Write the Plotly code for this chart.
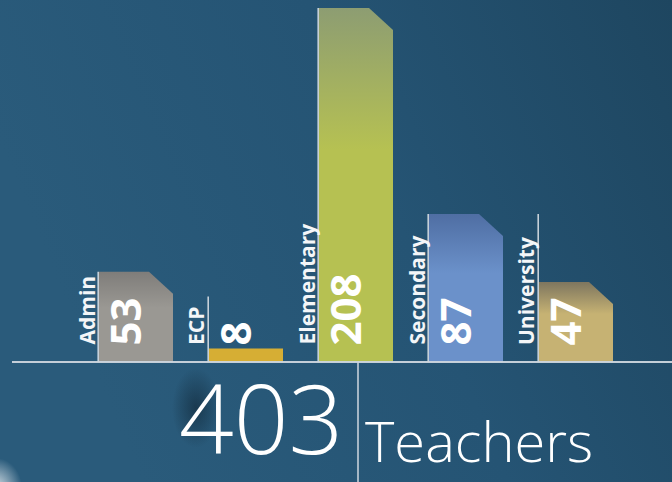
import base64
import plotly.graph_objects as go

# ---------------- data ----------------
categories = ["Admin", "ECP", "Elementary", "Secondary", "University"]
values = [53, 8, 208, 87, 47]
unit_label = "Teachers"
total = sum(values)  # 403

bar_colors_bottom = ["#9a9893", "#d6ae34", "#b6c152", "#6b91ca", "#c6b273"]
bar_colors_top = ["#7f7d7a", "#d6ae34", "#8d9d72", "#4f6ea3", "#7e765f"]

# ---------------- geometry (pixel based layout) ----------------
W, H = 672, 482
PITCH = 110.0          # px between bar starts
FIRST_CENTER = 136.0   # px, centre of first bar
BAR_W = 74.0           # px
BASE_Y = 362.0         # px, baseline
PX_PER_UNIT = 1.702    # px per teacher
CUT_X, CUT_Y = 24.0, 22.0
LABEL_FS, VALUE_FS = 21, 42


def dx(px):
    return px / PITCH


def dy(px):
    return px / PX_PER_UNIT


x_range = [-FIRST_CENTER / PITCH, (W - FIRST_CENTER) / PITCH]
y_range = [-(H - BASE_Y) / PX_PER_UNIT, BASE_Y / PX_PER_UNIT]

half = dx(BAR_W / 2)

fig = go.Figure()

for i, (cat, v) in enumerate(zip(categories, values)):
    xl, xr = i - half, i + half
    if v * PX_PER_UNIT > CUT_Y * 1.5:
        xs = [xl, xl, xr - dx(CUT_X), xr, xr, xl]
        ys = [0, v, v, v - dy(CUT_Y), 0, 0]
    else:
        xs = [xl, xl, xr, xr, xl]
        ys = [0, v, v, 0, 0]
    fig.add_trace(go.Scatter(
        x=xs, y=ys, mode="lines", fill="toself",
        line=dict(width=0, color=bar_colors_bottom[i]),
        fillcolor=bar_colors_bottom[i],
        fillgradient=dict(type="vertical",
                          colorscale=[[0, bar_colors_bottom[i]], [0.6, bar_colors_bottom[i]],
                                      [1, bar_colors_top[i]]]),
        hoverinfo="skip", showlegend=False,
    ))

    # guide line left of the bar, tall enough for the label
    label_px = 11.8 * len(cat) + 4
    label_top_units = dy(18 + label_px + 8)
    guide_top = max(v, label_top_units)
    gx = xl - dx(0.8)
    fig.add_trace(go.Scatter(
        x=[gx, gx], y=[0, guide_top], mode="lines",
        line=dict(color="rgba(215,222,228,0.9)", width=1.6),
        hoverinfo="skip", showlegend=False,
    ))

    # category label (rotated)
    fig.add_annotation(
        x=xl, y=0, xref="x", yref="y", text=cat, textangle=-90,
        xanchor="right", yanchor="bottom", xshift=2, yshift=16,
        showarrow=False, borderpad=0,
        font=dict(family="Open Sans", size=LABEL_FS, color="#f4f6f8", weight=700),
    )
    # value (rotated, bold)
    fig.add_annotation(
        x=xl, y=0, xref="x", yref="y", text=str(v), textangle=-90,
        xanchor="right", yanchor="bottom", xshift=54, yshift=15,
        showarrow=False, borderpad=0,
        font=dict(family="Open Sans", size=VALUE_FS, color="#ffffff", weight=700),
    )

# baseline and divider
fig.add_shape(type="line", xref="paper", yref="y", x0=12 / W, x1=1, y0=0, y1=0,
              line=dict(color="rgba(205,214,222,0.95)", width=2))
fig.add_shape(type="line", xref="paper", yref="y", x0=358 / W, x1=358 / W,
              y0=0, y1=y_range[0], line=dict(color="rgba(205,214,222,0.95)", width=1.6))

# total and unit
fig.add_annotation(
    x=358 / W, y=0, xref="paper", yref="paper", text=str(total),
    xanchor="right", yanchor="bottom", xshift=-14, yshift=-1,
    showarrow=False, borderpad=0,
    font=dict(family="Open Sans", size=96, color="#ffffff", weight=300),
)
fig.add_annotation(
    x=358 / W, y=0, xref="paper", yref="paper", text=unit_label,
    xanchor="left", yanchor="bottom", xshift=6, yshift=3,
    showarrow=False, borderpad=0,
    font=dict(family="Open Sans", size=56, color="#ffffff", weight=300),
)

# background gradient
bg_svg = f'''<svg xmlns="http://www.w3.org/2000/svg" width="{W}" height="{H}" viewBox="0 0 {W} {H}">
<defs>
<linearGradient id="g" x1="0" y1="0.3" x2="1" y2="0">
<stop offset="0" stop-color="#2a5b7b"/>
<stop offset="0.5" stop-color="#255474"/>
<stop offset="1" stop-color="#1e4660"/>
</linearGradient>
<radialGradient id="w" cx="0.5" cy="0.5" r="0.5">
<stop offset="0" stop-color="#e8eef2" stop-opacity="0.9"/>
<stop offset="1" stop-color="#e8eef2" stop-opacity="0"/>
</radialGradient>
<radialGradient id="s" cx="0.5" cy="0.5" r="0.5">
<stop offset="0" stop-color="#0a1a26" stop-opacity="0.5"/>
<stop offset="1" stop-color="#0a1a26" stop-opacity="0"/>
</radialGradient>
</defs>
<rect width="{W}" height="{H}" fill="url(#g)"/>
<ellipse cx="-4" cy="488" rx="26" ry="30" fill="url(#w)"/>
<ellipse cx="196" cy="408" rx="24" ry="40" fill="url(#s)"/>
</svg>'''
bg_uri = "data:image/svg+xml;base64," + base64.b64encode(bg_svg.encode()).decode()

fig.update_layout(
    width=W, height=H,
    margin=dict(l=0, r=0, t=0, b=0),
    paper_bgcolor="#255474", plot_bgcolor="rgba(0,0,0,0)",
    xaxis=dict(range=x_range, visible=False, fixedrange=True),
    yaxis=dict(range=y_range, visible=False, fixedrange=True),
    images=[dict(source=bg_uri, xref="paper", yref="paper", x=0, y=1, sizex=1, sizey=1,
                 sizing="stretch", layer="below", xanchor="left", yanchor="top")],
    showlegend=False,
)

fig.write_html("out.html", config={"displayModeBar": False})
